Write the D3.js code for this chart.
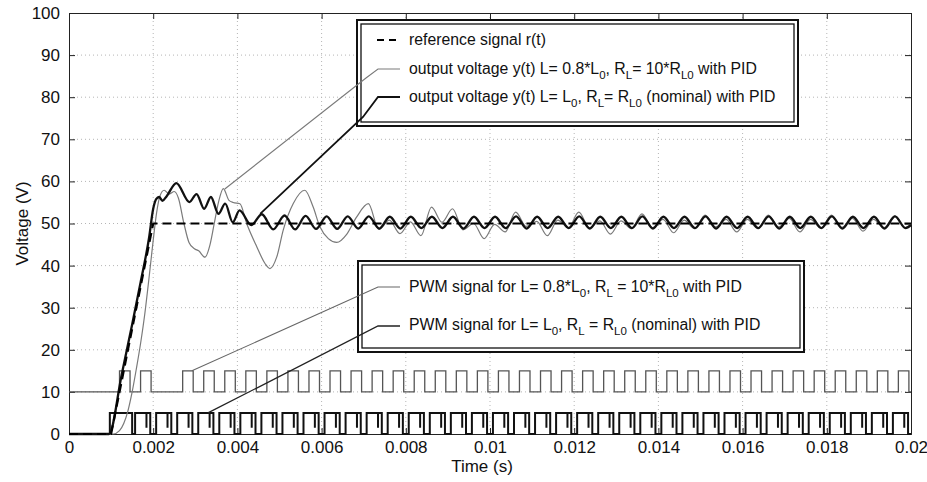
<!DOCTYPE html>
<html>
<head>
<meta charset="utf-8">
<script src="https://cdn.jsdelivr.net/npm/d3@7"></script>
<style>
  body { margin: 0; background: #fff; }
  text { font-family: "Liberation Sans", Arial, Helvetica, sans-serif; fill: #111; }
</style>
</head>
<body>
<script>
// ---- data (time in s, voltage in V) ----
var xTicks = [0, 0.002, 0.004, 0.006, 0.008, 0.01, 0.012, 0.014, 0.016, 0.018, 0.02];
var yTicks = [0, 10, 20, 30, 40, 50, 60, 70, 80, 90, 100];

var refSignal = [[0, 0], [0.001, 0], [0.002, 50], [0.02, 50]];

// output voltage, nominal L0 / RL0
var outNominal = [
  [0, 0], [0.00095, 0], [0.00125, 14], [0.0015, 26], [0.0017, 36], [0.0019, 46.5],
  [0.002, 53.5], [0.00207, 55.8], [0.00214, 56.3], [0.00222, 55.4], [0.00232, 56.5],
  [0.00255, 59.6], [0.00286, 55.1], [0.00303, 57.0], [0.00321, 53.5], [0.00337, 56.3],
  [0.00355, 52.3], [0.00371, 54.7], [0.00389, 50.3], [0.00405, 53.1], [0.00433, 49.6],
  [0.00458, 52.2], [0.00485, 48.6], [0.00512, 51.9], [0.00537, 48.6], [0.00562, 51.8],
  [0.00587, 48.7], [0.00612, 51.7], [0.00637, 48.7], [0.00662, 51.7], [0.00687, 48.8],
  [0.00712, 51.7], [0.00737, 48.8], [0.00762, 51.6], [0.00787, 48.8], [0.00812, 51.6],
  [0.00837, 48.9], [0.00862, 51.6], [0.00887, 48.9], [0.00912, 51.6], [0.00937, 48.8],
  [0.00962, 51.6], [0.00987, 48.9], [0.01012, 51.6], [0.01037, 48.9], [0.01062, 51.7],
  [0.01087, 48.8], [0.01112, 51.6], [0.01137, 48.9], [0.01162, 51.6], [0.01187, 48.9],
  [0.01212, 51.7], [0.01237, 48.8], [0.01262, 51.6], [0.01287, 48.9], [0.01312, 51.6],
  [0.01337, 48.9], [0.01362, 51.7], [0.01387, 48.8], [0.01412, 51.6], [0.01437, 48.9],
  [0.01462, 51.6], [0.01487, 48.9], [0.01512, 51.7], [0.01537, 48.8], [0.01562, 51.6],
  [0.01587, 48.9], [0.01612, 51.6], [0.01637, 48.9], [0.01662, 51.7], [0.01687, 48.8],
  [0.01712, 51.6], [0.01737, 48.9], [0.01762, 51.6], [0.01787, 48.9], [0.01812, 51.7],
  [0.01837, 48.8], [0.01862, 51.6], [0.01887, 48.9], [0.01912, 51.6], [0.01937, 48.8],
  [0.01962, 51.7], [0.01987, 48.9], [0.02, 49.6]
];

// output voltage, L = 0.8*L0, RL = 10*RL0
var outVaried = [
  [0, 0], [0.00105, 0], [0.0012, 0.8], [0.0013, 2.5], [0.0014, 5.5], [0.0015, 10],
  [0.0016, 15.5], [0.0017, 21.5], [0.0018, 28.5], [0.0019, 37], [0.002, 46],
  [0.00208, 52.5], [0.00216, 56.5], [0.00226, 57.9], [0.00238, 57.0], [0.0025, 57.6],
  [0.0026, 56], [0.00273, 50], [0.00285, 45.5], [0.00298, 44], [0.00308, 43.5],
  [0.00323, 42], [0.00335, 45], [0.00345, 50], [0.00355, 55], [0.003665, 58.3],
  [0.0038, 55.5], [0.0039, 55], [0.00406, 54.7], [0.00422, 50], [0.00446, 44.5],
  [0.004656, 40.5], [0.004774, 39.3], [0.004933, 42], [0.00509, 48.5], [0.00533, 54.8],
  [0.0056, 57.9], [0.0058, 53.9], [0.00596, 49.2], [0.00616, 46.4], [0.00636, 45.5],
  [0.0066, 47.5], [0.00683, 51.5], [0.00711, 54.7], [0.00736, 48.6], [0.00761, 50.8],
  [0.00786, 47.6], [0.00811, 50.4], [0.00836, 47.1], [0.00861, 53.9], [0.00886, 50.3],
  [0.00911, 53.5], [0.00936, 48.5], [0.00961, 50.0], [0.00986, 46.4], [0.01011, 49.8],
  [0.01036, 48.0], [0.01061, 52.7], [0.01086, 49.3], [0.01111, 50.5], [0.01136, 47.1],
  [0.01161, 50.8], [0.01186, 49.0], [0.01211, 52.7], [0.01236, 49.0], [0.01261, 50.6],
  [0.01286, 47.5], [0.01311, 50.6], [0.01336, 48.8], [0.01361, 52.3], [0.01386, 49.0],
  [0.01411, 51.0], [0.01436, 47.8], [0.01461, 50.8], [0.01486, 48.8], [0.01511, 52.0],
  [0.01536, 49.2], [0.01561, 51.0], [0.01586, 48.0], [0.01611, 51.0], [0.01636, 48.8],
  [0.01661, 52.0], [0.01686, 49.2], [0.01711, 51.2], [0.01736, 48.0], [0.01761, 51.0],
  [0.01786, 48.9], [0.01811, 52.0], [0.01836, 49.1], [0.01861, 51.2], [0.01886, 48.2],
  [0.01911, 51.0], [0.01936, 49.0], [0.01961, 51.8], [0.01986, 49.0], [0.02, 50.0]
];

// PWM for nominal case: low 0, high 5
var pwmNomRise = [0.00097, 0.00157, 0.00207, 0.00257, 0.00307, 0.00357, 0.00407, 0.00457,
  0.00507, 0.00557, 0.00607, 0.00657, 0.00707, 0.00757, 0.00807, 0.00857, 0.00907, 0.00957,
  0.01007, 0.01057, 0.01107, 0.01157, 0.01207, 0.01257, 0.01307, 0.01357, 0.01407, 0.01457,
  0.01507, 0.01557, 0.01607, 0.01657, 0.01707, 0.01757, 0.01807, 0.01857, 0.01907, 0.01957];
var pwmNomFall = [0.00150, 0.00193, 0.00243, 0.00293, 0.00343, 0.00393, 0.00443, 0.00493,
  0.00543, 0.00593, 0.00643, 0.00693, 0.00743, 0.00793, 0.00843, 0.00893, 0.00943, 0.00993,
  0.01043, 0.01093, 0.01143, 0.01193, 0.01243, 0.01293, 0.01343, 0.01393, 0.01443, 0.01493,
  0.01543, 0.01593, 0.01643, 0.01693, 0.01743, 0.01793, 0.01843, 0.01893, 0.01943, 0.01993];
var pwmNomNotch = [0.00184, 0.00234, 0.00284, 0.00334, 0.00384, 0.00434, 0.00484, 0.00534,
  0.00584, 0.00634, 0.00684, 0.00734, 0.00784, 0.00834, 0.00884, 0.00934, 0.00984, 0.01034,
  0.01084, 0.01134, 0.01184, 0.01234, 0.01284, 0.01334, 0.01384, 0.01434, 0.01484, 0.01534,
  0.01584, 0.01634, 0.01684, 0.01734, 0.01784, 0.01834, 0.01884, 0.01934, 0.01984];

// PWM for varied case: low 10, high 15
var pwmVarRise = [0.0012, 0.0017, 0.0027, 0.0032, 0.0037, 0.0042, 0.0047, 0.0052, 0.0057,
  0.0062, 0.0067, 0.0072, 0.0077, 0.0082, 0.0087, 0.0092, 0.0097, 0.0102, 0.0107, 0.0112,
  0.0117, 0.0122, 0.0127, 0.0132, 0.0137, 0.0142, 0.0147, 0.0152, 0.0157, 0.0162, 0.0167,
  0.0172, 0.0177, 0.0182, 0.0187, 0.0192, 0.0197];
var pwmVarFall = [0.00145, 0.00195, 0.00295, 0.00345, 0.00395, 0.00445, 0.00495, 0.00545,
  0.00595, 0.00645, 0.00695, 0.00745, 0.00795, 0.00845, 0.00895, 0.00945, 0.00995, 0.01045,
  0.01095, 0.01145, 0.01195, 0.01245, 0.01295, 0.01345, 0.01395, 0.01445, 0.01495, 0.01545,
  0.01595, 0.01645, 0.01695, 0.01745, 0.01795, 0.01845, 0.01895, 0.01945, 0.01995];

// ---- layout ----
var W = 927, H = 482;
var margin = {left: 69, right: 16, top: 13, bottom: 48};

var x = d3.scaleLinear().domain([0, 0.02]).range([margin.left, W - margin.right]);
var y = d3.scaleLinear().domain([0, 100]).range([H - margin.bottom, margin.top]);

var svg = d3.select("body").append("svg")
  .attr("width", W)
  .attr("height", H);

// grid
svg.append("g").selectAll("line").data(xTicks.slice(1, -1)).join("line")
  .attr("x1", d => x(d)).attr("x2", d => x(d))
  .attr("y1", y(0)).attr("y2", y(100))
  .attr("stroke", "#b5b5b5").attr("stroke-width", 1).attr("stroke-dasharray", "1,3");
svg.append("g").selectAll("line").data(yTicks.slice(1, -1)).join("line")
  .attr("x1", x(0)).attr("x2", x(0.02))
  .attr("y1", d => y(d)).attr("y2", d => y(d))
  .attr("stroke", "#b5b5b5").attr("stroke-width", 1).attr("stroke-dasharray", "1,3");

// axes, ticks inside on all four sides
var fmt = d3.format("~g");
svg.append("g").attr("transform", "translate(0," + y(0) + ")")
  .call(d3.axisBottom(x).tickValues(xTicks).tickSize(-6).tickPadding(7).tickFormat(fmt));
svg.append("g").attr("transform", "translate(0," + y(100) + ")")
  .call(d3.axisTop(x).tickValues(xTicks).tickSize(-6).tickFormat(""));
svg.append("g").attr("transform", "translate(" + x(0) + ",0)")
  .call(d3.axisLeft(y).tickValues(yTicks).tickSize(-6).tickPadding(9));
svg.append("g").attr("transform", "translate(" + x(0.02) + ",0)")
  .call(d3.axisRight(y).tickValues(yTicks).tickSize(-6).tickFormat(""));

svg.selectAll(".domain").attr("stroke", "#222");
svg.selectAll(".tick line").attr("stroke", "#222");
svg.selectAll(".tick text")
  .style("font-family", "'Liberation Sans', Arial, sans-serif")
  .style("font-size", "17px").attr("fill", "#111");

// axis titles
svg.append("text")
  .attr("x", 482).attr("y", 472)
  .attr("text-anchor", "middle").style("font-size", "17px")
  .text("Time (s)");
svg.append("text")
  .attr("transform", "translate(28," + y(50) + ") rotate(-90)")
  .attr("text-anchor", "middle").style("font-size", "17px")
  .text("Voltage (V)");

// ---- series ----
var smooth = d3.line().x(d => x(d[0])).y(d => y(d[1])).curve(d3.curveMonotoneX);
var straight = d3.line().x(d => x(d[0])).y(d => y(d[1]));
var step = d3.line().x(d => x(d[0])).y(d => y(d[1])).curve(d3.curveStepAfter);

function pwmPoints(rise, fall, notch, low, high, notchV) {
  var pts = [[0, low]];
  rise.forEach(function(r) { pts.push([r, high]); });
  fall.forEach(function(f) { if (f < 0.02) pts.push([f, low]); });
  (notch || []).forEach(function(n) { pts.push([n, notchV]); pts.push([n, high]); });
  pts.sort(function(a, b) { return a[0] - b[0]; });
  var last = pts[pts.length - 1];
  pts.push([0.02, last[1]]);
  return pts;
}

svg.append("path")
  .attr("d", step(pwmPoints(pwmVarRise, pwmVarFall, null, 10, 15)))
  .attr("fill", "none").attr("stroke", "#555").attr("stroke-width", 1.3);
svg.append("path")
  .attr("d", step(pwmPoints(pwmNomRise, pwmNomFall, pwmNomNotch, 0, 5, 1.5)))
  .attr("fill", "none").attr("stroke", "#111").attr("stroke-width", 2);

svg.append("path")
  .attr("d", smooth(outVaried))
  .attr("fill", "none").attr("stroke", "#7a7a7a").attr("stroke-width", 1.2);
svg.append("path")
  .attr("d", smooth(outNominal))
  .attr("fill", "none").attr("stroke", "#111").attr("stroke-width", 2.3);
svg.append("path")
  .attr("d", straight(refSignal))
  .attr("fill", "none").attr("stroke", "#000").attr("stroke-width", 2.2)
  .attr("stroke-dasharray", "9,5");

// ---- legend boxes with leader lines ----
function box(x0, y0, x1, y1) {
  svg.append("rect").attr("x", x0).attr("y", y0).attr("width", x1 - x0).attr("height", y1 - y0)
    .attr("fill", "#fff").attr("stroke", "#111").attr("stroke-width", 2);
  svg.append("rect").attr("x", x0 + 4).attr("y", y0 + 4).attr("width", x1 - x0 - 8).attr("height", y1 - y0 - 8)
    .attr("fill", "none").attr("stroke", "#111").attr("stroke-width", 1.3);
}

function label(yb, parts) {
  var t = svg.append("text").attr("x", 409).attr("y", yb).style("font-size", "15.8px");
  var down = false;
  parts.forEach(function(p) {
    var sub = Array.isArray(p);
    var s = t.append("tspan").text(sub ? p[0] : p);
    if (sub && !down) { s.attr("dy", 5).style("font-size", "11.5px"); down = true; }
    else if (sub) { s.style("font-size", "11.5px"); }
    else if (down) { s.attr("dy", -5); down = false; }
  });
}

function leader(pts, color, w) {
  svg.append("path").attr("d", d3.line()(pts))
    .attr("fill", "none").attr("stroke", color).attr("stroke-width", w);
}

box(357, 20, 798, 126);
box(358, 261, 804, 352);

// sample lines and leaders (target ends sit on the curves, in data units)
svg.append("line").attr("x1", 377).attr("x2", 399).attr("y1", 40).attr("y2", 40)
  .attr("stroke", "#000").attr("stroke-width", 2).attr("stroke-dasharray", "7,5");
leader([[400, 69], [378, 69], [366, 78], [x(0.00370), y(58.2)]], "#7a7a7a", 1.1);
leader([[400, 97], [378, 97], [363, 117], [x(0.00454), y(52.3)]], "#111", 1.8);
leader([[400, 287], [378, 287], [x(0.00292), y(15)]], "#666", 1.1);
leader([[400, 326], [378, 326], [x(0.00330), y(5)]], "#222", 1.3);

label(45, ["reference signal r(t)"]);
label(74, ["output voltage y(t) L= 0.8*L", ["0"], ", R", ["L"], "= 10*R", ["L0"], " with PID"]);
label(102, ["output voltage y(t) L= L", ["0"], ", R", ["L"], "= R", ["L0"], " (nominal) with PID"]);
label(292, ["PWM signal for L= 0.8*L", ["0"], ", R", ["L"], " = 10*R", ["L0"], " with PID"]);
label(330, ["PWM signal for L= L", ["0"], ", R", ["L"], " = R", ["L0"], " (nominal) with PID"]);
</script>
</body>
</html>
